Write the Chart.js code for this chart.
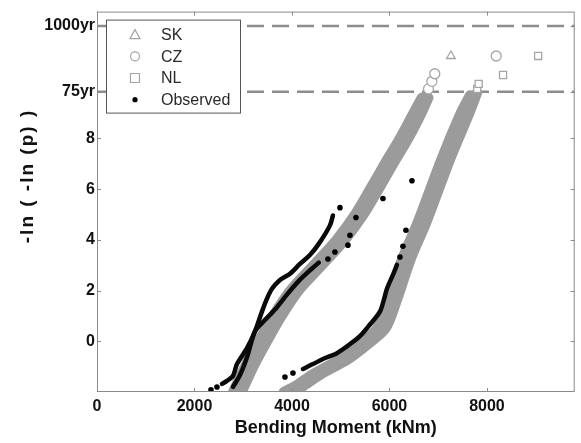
<!DOCTYPE html>
<html>
<head>
<meta charset="utf-8">
<script src="https://cdn.jsdelivr.net/npm/chart.js@4.4.1/dist/chart.umd.min.js"></script>
<style>
    html, body { margin: 0; padding: 0; background: #fff; }
</style>
</head>
<body>
<canvas id="gumbelChart" width="581" height="443"></canvas>
<script>
// Gumbel plot of bending moment, simulated (SK / CZ / NL) vs observed

const xTickValues = [0, 2000, 4000, 6000, 8000];
const yTickValues = [0, 2, 4, 6, 8];
const returnLabels = ['75yr', '1000yr'];
const returnLevels = [9.84, 12.43];

// simulated bands, [bending moment, reduced variate]
const skLeft = [[2790, -2.0], [3030, -1.0], [3310, 0.0], [3610, 1.0], [3960, 2.0], [4440, 3.0], [4910, 4.0], [5290, 5.0], [5600, 6.0], [5900, 7.0], [6210, 8.0], [6490, 9.0], [6660, 9.6]];
const czLeft = [[2880, -2.0], [3120, -1.0], [3400, 0.0], [3700, 1.0], [4050, 2.0], [4530, 3.0], [5000, 4.0], [5380, 5.0], [5690, 6.0], [5990, 7.0], [6300, 8.0], [6580, 9.0], [6750, 9.7]];
const nlLeft = [[2970, -2.0], [3210, -1.0], [3490, 0.0], [3790, 1.0], [4140, 2.0], [4620, 3.0], [5090, 4.0], [5470, 5.0], [5780, 6.0], [6080, 7.0], [6390, 8.0], [6660, 9.0], [6800, 9.6]];

const skRight = [[3830, -2.0], [4070, -1.75], [4420, -1.3], [4980, -0.7], [5390, -0.1], [5740, 0.5], [5960, 1.55], [6270, 3.3], [6580, 4.7], [7070, 7.2], [7460, 9.0], [7650, 9.7]];
const czRight = [[3920, -2.0], [4160, -1.75], [4510, -1.3], [5070, -0.7], [5480, -0.1], [5830, 0.5], [6050, 1.55], [6360, 3.3], [6670, 4.7], [7160, 7.2], [7550, 9.0], [7730, 9.7]];
const nlRight = [[4010, -2.0], [4250, -1.75], [4600, -1.3], [5160, -0.7], [5570, -0.1], [5920, 0.5], [6140, 1.55], [6450, 3.3], [6760, 4.7], [7250, 7.2], [7640, 9.0], [7800, 9.8]];

// upper tail points shown as separate markers
const skTail = [[7260, 11.25]];
const czTail = [[6800, 9.95], [6870, 10.25], [6930, 10.55], [8190, 11.25]];
const nlTail = [[7800, 9.95], [7830, 10.15], [8330, 10.5], [9050, 11.25]];

// observed
const obsLineA = [[2564, -1.68], [2666, -1.56], [2789, -1.37], [2871, -0.9], [3077, -0.27], [3241, 0.39], [3384, 1.17], [3487, 1.68], [3589, 2.07], [3753, 2.42], [3958, 2.66], [4163, 3.05], [4368, 3.4], [4574, 3.91], [4779, 4.57], [4840, 4.96]];
const obsLineB = [[2789, -1.8], [2933, -1.33], [3077, -0.63], [3241, 0.39], [3400, 0.75], [3650, 1.25], [3900, 1.85], [4150, 2.4], [4400, 2.85], [4550, 3.1]];
const obsLineC = [[4225, -1.09], [4430, -0.9], [4635, -0.7], [4922, -0.47], [5127, -0.2], [5394, 0.2], [5600, 0.66], [5804, 1.17], [5886, 1.64], [5948, 2.07], [6071, 2.62], [6153, 3.01]];
const obsDots = [[2338, -1.91], [2461, -1.8], [3856, -1.41], [4020, -1.25], [4738, 3.24], [4881, 3.52], [4984, 5.27], [5148, 3.79], [5189, 4.18], [5312, 4.88], [5866, 5.63], [6215, 3.32], [6276, 3.75], [6338, 4.38], [6461, 6.33]];

const xMin = 0, xMax = 9800, yMin = -2, yMax = 13;

const BAND = '#9b9b9b';
const AXIS = '#8a8a8a';
const FONT = "'Liberation Sans', Arial, sans-serif";

function pts(arr) {
    return arr.map(p => ({ x: p[0], y: p[1] }));
}

function band(arr) {
    return {
        data: pts(arr),
        showLine: true,
        borderColor: BAND,
        borderWidth: 10,
        borderCapStyle: 'round',
        borderJoinStyle: 'round',
        pointRadius: 0,
        tension: 0.3,
        order: 2
    };
}

function tail(arr, style) {
    return {
        data: pts(arr),
        showLine: false,
        pointStyle: style,
        pointRadius: 5,
        pointBorderWidth: 1.3,
        pointBorderColor: '#a5a5a5',
        pointBackgroundColor: '#ffffff',
        order: 1
    };
}

function obsLine(arr) {
    return {
        data: pts(arr),
        showLine: true,
        borderColor: '#0a0a0a',
        borderWidth: 4.5,
        borderCapStyle: 'round',
        pointRadius: 0,
        tension: 0.3,
        order: 0
    };
}

function level(v) {
    return {
        data: [{ x: xMin, y: v }, { x: xMax, y: v }],
        showLine: true,
        borderColor: '#8c8c8c',
        borderWidth: 2.5,
        borderDash: [17, 8],
        pointRadius: 0,
        order: 3
    };
}

const legendItems = [
    { label: 'SK', style: 'triangle' },
    { label: 'CZ', style: 'circle' },
    { label: 'NL', style: 'rect' },
    { label: 'Observed', style: 'dot' }
];

function marker(ctx, style, x, y) {
    ctx.beginPath();
    if (style === 'triangle') {
        ctx.moveTo(x, y - 5);
        ctx.lineTo(x + 5, y + 4);
        ctx.lineTo(x - 5, y + 4);
        ctx.closePath();
    } else if (style === 'circle') {
        ctx.arc(x, y, 4.5, 0, Math.PI * 2);
    } else if (style === 'rect') {
        ctx.rect(x - 4.5, y - 4.5, 9, 9);
    } else {
        ctx.arc(x, y, 2.6, 0, Math.PI * 2);
        ctx.fillStyle = '#000';
        ctx.fill();
        return;
    }
    ctx.fillStyle = '#fff';
    ctx.fill();
    ctx.strokeStyle = '#a5a5a5';
    ctx.lineWidth = 1.2;
    ctx.stroke();
}

const framePlugin = {
    id: 'frame',
    afterDraw(chart) {
        const { ctx, chartArea: a, scales: { x, y } } = chart;
        ctx.save();

        // axes box with inward ticks
        ctx.strokeStyle = AXIS;
        ctx.lineWidth = 1;
        ctx.strokeRect(a.left + 0.5, a.top + 0.5, a.right - a.left - 1, a.bottom - a.top - 1);
        ctx.beginPath();
        x.ticks.forEach(t => {
            const px = Math.round(x.getPixelForValue(t.value)) + 0.5;
            ctx.moveTo(px, a.bottom); ctx.lineTo(px, a.bottom - 4);
            ctx.moveTo(px, a.top); ctx.lineTo(px, a.top + 4);
        });
        y.ticks.forEach(t => {
            const py = Math.round(y.getPixelForValue(t.value)) + 0.5;
            ctx.moveTo(a.left, py); ctx.lineTo(a.left + 4, py);
            ctx.moveTo(a.right, py); ctx.lineTo(a.right - 4, py);
        });
        ctx.stroke();

        // legend box in the upper left corner
        const lx = a.left + 9, ly = a.top + 8, lw = 134, lh = 93;
        ctx.fillStyle = '#fff';
        ctx.fillRect(lx, ly, lw, lh);
        ctx.strokeStyle = '#555';
        ctx.strokeRect(lx + 0.5, ly + 0.5, lw, lh);
        ctx.font = '16px ' + FONT;
        ctx.textBaseline = 'middle';
        legendItems.forEach((item, i) => {
            const cy = ly + 15 + i * 21.7;
            marker(ctx, item.style, lx + 29, cy);
            ctx.fillStyle = '#2a2a2a';
            ctx.fillText(item.label, lx + 55, cy + 1);
        });

        // y axis title
        ctx.translate(28, 176);
        ctx.rotate(-Math.PI / 2);
        ctx.font = 'bold 19px ' + FONT;
        ctx.letterSpacing = '2px';
        ctx.fillStyle = '#111';
        ctx.textAlign = 'center';
        ctx.textBaseline = 'middle';
        ctx.fillText('-ln ( -ln (p) )', 0, 0);
        ctx.restore();
    }
};

new Chart(document.getElementById('gumbelChart'), {
    type: 'scatter',
    data: {
        datasets: [
            obsLine(obsLineA),
            obsLine(obsLineB),
            obsLine(obsLineC),
            {
                data: pts(obsDots),
                showLine: false,
                pointRadius: 2.8,
                pointBackgroundColor: '#000',
                pointBorderWidth: 0,
                order: 0
            },
            tail(skTail, 'triangle'),
            tail(czTail, 'circle'),
            tail(nlTail, 'rect'),
            band(skLeft), band(czLeft), band(nlLeft),
            band(skRight), band(czRight), band(nlRight),
            level(returnLevels[0]),
            level(returnLevels[1])
        ]
    },
    options: {
        responsive: false,
        animation: false,
        layout: { padding: { left: 0, right: 5, top: 7, bottom: 0 } },
        plugins: {
            legend: { display: false },
            tooltip: { enabled: false }
        },
        scales: {
            x: {
                type: 'linear',
                min: xMin, max: xMax,
                afterBuildTicks: s => { s.ticks = xTickValues.map(v => ({ value: v })); },
                afterFit: s => { s.height = 51; },
                grid: { display: false, drawTicks: false },
                border: { display: false },
                ticks: {
                    padding: 5,
                    color: '#111',
                    font: { family: FONT, size: 16, weight: 'bold' },
                    callback: v => String(v)
                },
                title: {
                    display: true,
                    text: 'Bending Moment (kNm)',
                    color: '#111',
                    font: { family: FONT, size: 18, weight: 'bold' },
                    padding: { top: 0, bottom: 4 }
                }
            },
            y: {
                type: 'linear',
                min: yMin, max: yMax,
                afterBuildTicks: s => {
                    s.ticks = yTickValues.concat(returnLevels).map(v => ({ value: v }));
                },
                afterFit: s => { s.width = 97; },
                grid: { display: false, drawTicks: false },
                border: { display: false },
                ticks: {
                    padding: 2,
                    color: '#111',
                    font: { family: FONT, size: 16, weight: 'bold' },
                    callback: function (v) {
                        const i = returnLevels.indexOf(v);
                        return i >= 0 ? returnLabels[i] : String(v);
                    }
                },
                title: { display: false }
            }
        }
    },
    plugins: [framePlugin]
});
</script>
</body>
</html>
